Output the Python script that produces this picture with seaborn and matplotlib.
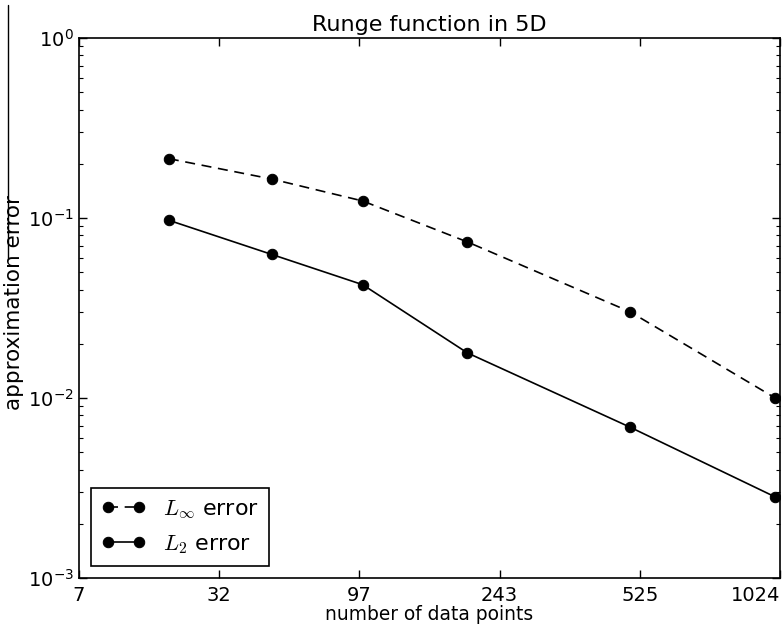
import numpy as np
import pandas as pd
import matplotlib
matplotlib.use("Agg")
import matplotlib.pyplot as plt
import seaborn as sns
from matplotlib.lines import Line2D

# Data
n_points = [20, 50, 100, 200, 500, 1000]
linf_error = [0.2136, 0.1647, 0.1243, 0.0736, 0.0301, 0.01004]
l2_error = [0.0971, 0.0628, 0.0426, 0.0178, 0.00688, 0.00283]
x_tick_labels = ["7", "32", "97", "243", "525", "1024"]
dim = 5

sns.set_style("ticks")
plt.rcParams['font.family'] = ['DejaVu Sans']
plt.rcParams['mathtext.fontset'] = 'cm'
plt.rcParams['xtick.direction'] = 'in'
plt.rcParams['ytick.direction'] = 'in'
plt.rcParams['text.color'] = 'black'
plt.rcParams['axes.labelcolor'] = 'black'

df = pd.DataFrame({
    "x": np.array(n_points, dtype=float) ** (1.0 / dim),
    "linf": linf_error,
    "l2": l2_error,
})

fig = plt.figure(figsize=(7.82, 6.31), dpi=100)
ax = fig.add_axes([0.101, 0.084, 0.8964, 0.8558])

sns.lineplot(data=df, x="x", y="linf", ax=ax, color="black", linestyle="--",
             marker="o", markersize=7.5, markeredgecolor="black", linewidth=1.2,
             label=r"$L_\infty$ error")
sns.lineplot(data=df, x="x", y="l2", ax=ax, color="black", linestyle="-",
             marker="o", markersize=7.5, markeredgecolor="black", linewidth=1.2,
             label=r"$L_2$ error")
ax.lines[0].set_dashes([6, 4])

ax.set_yscale("log")
ax.set_ylim(1e-3, 1e0)
tick_vals = np.array([int(v) for v in x_tick_labels], dtype=float)
tick_pos = np.round(tick_vals ** (1.0 / dim) * 2) / 2
ax.set_xlim(tick_pos[0], tick_pos[-1])
ax.set_xticks(tick_pos)
ax.set_xticklabels(x_tick_labels)
ax.get_xticklabels()[-1].set_horizontalalignment("right")

ax.tick_params(axis="both", which="both", top=True, right=True, labelsize=14,
               color="black", labelcolor="black")
ax.tick_params(axis="both", which="major", length=6, width=1)
ax.tick_params(axis="y", which="minor", length=3, width=0.8)
ax.tick_params(axis="x", pad=6)
for s in ax.spines.values():
    s.set_color("black")
    s.set_linewidth(1.2)

ax.set_title("Runge function in 5D", fontsize=16, pad=5)
ax.set_xlabel("number of data points", fontsize=13.4, labelpad=0)
ax.set_ylabel("approximation error", fontsize=15.5)
ax.yaxis.set_label_coords(-0.079, 0.51)

leg = ax.legend(loc="lower left", numpoints=2, fontsize=16, frameon=True,
                fancybox=False, edgecolor="black", framealpha=1,
                borderaxespad=0.55, handlelength=2.0, handletextpad=0.8,
                borderpad=0.45, labelspacing=0.55)
leg.get_frame().set_linewidth(1.2)

fig.add_artist(Line2D([8 / 782, 8 / 782], [1 - 5 / 631, 1 - 258 / 631],
                      transform=fig.transFigure, color="black", linewidth=1))

fig.savefig("out.png", dpi=100)
